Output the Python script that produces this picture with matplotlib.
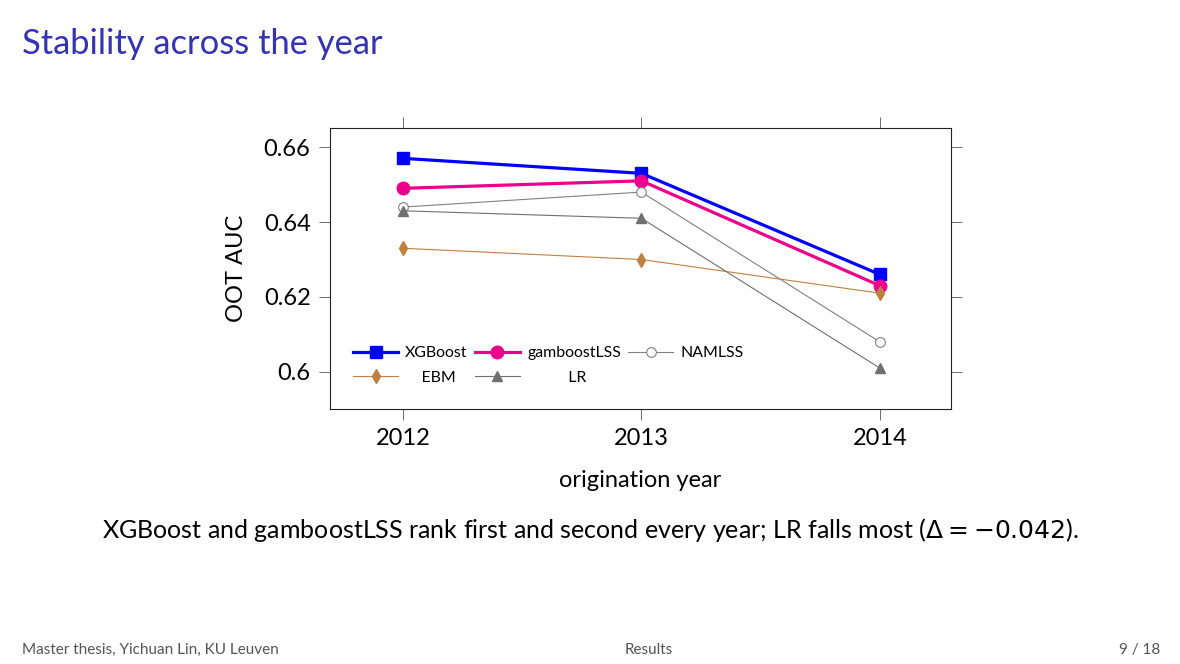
import matplotlib.pyplot as plt
import numpy as np

plt.rcParams['font.family'] = ['Lato', 'DejaVu Sans']
plt.rcParams['mathtext.fontset'] = 'dejavusans'

# data
years = [2012, 2013, 2014]
xgboost = [0.657, 0.653, 0.626]
gamboost = [0.649, 0.651, 0.623]
namlss = [0.644, 0.648, 0.608]
ebm = [0.633, 0.630, 0.621]
lr = [0.643, 0.641, 0.601]
yticks = [0.60, 0.62, 0.64, 0.66]
ytick_labels = ['0.6', '0.62', '0.64', '0.66']

fig = plt.figure(figsize=(11.8, 6.64), dpi=100)
ax = fig.add_axes([330/1180, 1 - 409/664, 621/1180, 281/664])

h_xgb, = ax.plot(years, xgboost, color='#0000ff', lw=2.3, marker='s', ms=9, label='XGBoost')
h_gam, = ax.plot(years, gamboost, color='#ec008c', lw=2.3, marker='o', ms=9, label='gamboostLSS')
h_nam, = ax.plot(years, namlss, color='#808080', lw=0.8, marker='o', ms=7, mfc='white',
                 mec='#808080', mew=0.8, label='NAMLSS')
h_ebm, = ax.plot(years, ebm, color='#bf8040', lw=0.8, marker='d', ms=7,
                 label='    EBM')
h_lr, = ax.plot(years, lr, color='#707070', lw=0.8, marker='^', ms=7,
                label='          LR')

ax.set_xlim(2011.694, 2014.298)
ax.set_ylim(0.5901, 0.6651)
ax.set_xticks(years)
ax.set_xticklabels([str(y) for y in years])
ax.set_yticks(yticks)
ax.set_yticklabels(ytick_labels)
ax.tick_params(direction='out', length=8, width=0.6, color='#555555',
               labelsize=17, top=True, right=True, pad=6)
for s in ax.spines.values():
    s.set_linewidth(0.8)
    s.set_color('#222222')
ax.set_xlabel('origination year', fontsize=17, labelpad=15)
ax.set_ylabel('OOT AUC', fontsize=17, labelpad=12)

# column-major order so the legend reads row by row
handles = [h_xgb, h_ebm, h_gam, h_lr, h_nam]
ax.legend(handles=handles, labels=[h.get_label() for h in handles],
          loc='lower left', ncol=3, frameon=False, fontsize=11.4, numpoints=1,
          handlelength=2.85, columnspacing=0.45, handletextpad=0.45,
          labelspacing=0.65, bbox_to_anchor=(0.037, 0.086), borderaxespad=0,
          borderpad=0)

fig.text(22/1180, 1 - 44/664, 'Stability across the year', color='#3333b3',
         fontsize=24.8, va='center', ha='left')
fig.text(0.5, 1 - 530/664,
         r'XGBoost and gamboostLSS rank first and second every year; LR falls most ($\Delta = -0.042$).',
         fontsize=18, ha='center', va='center')
fig.text(22/1180, 1 - 650/664, 'Master thesis, Yichuan Lin, KU Leuven', fontsize=11,
         color='#555555', va='center')
fig.text(649/1180, 1 - 650/664, 'Results', fontsize=11, color='#555555',
         va='center', ha='center')
fig.text(1160/1180, 1 - 650/664, '9 / 18', fontsize=11, color='#555555',
         va='center', ha='right')

fig.savefig('out.png', dpi=100)
